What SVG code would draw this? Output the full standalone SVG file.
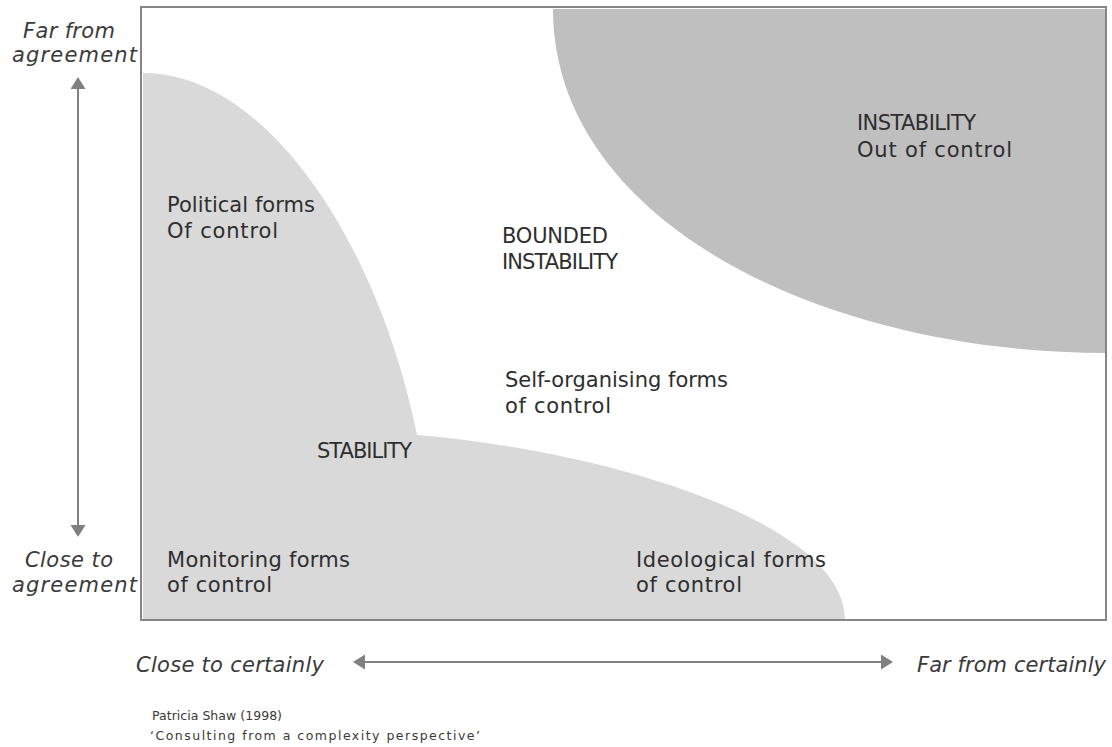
<svg xmlns="http://www.w3.org/2000/svg" width="1112" height="747" viewBox="0 0 1112 747">
  <style>
    .lbl { font-family: "DejaVu Sans", "Liberation Sans", sans-serif; font-size: 21px; fill: #2e2e2e; }
    .axis { font-family: "DejaVu Sans", "Liberation Sans", sans-serif; font-size: 21px; font-style: italic; fill: #3a3a3a; }
    .cite { font-family: "DejaVu Sans", "Liberation Sans", sans-serif; font-size: 12.5px; fill: #3a3a3a; }
    .arrow { stroke: #808080; stroke-width: 2; fill: none; }
  </style>
  <defs>
    <marker id="head" markerUnits="userSpaceOnUse" markerWidth="12" markerHeight="16" refX="9" refY="7.5" orient="auto-start-reverse">
      <path d="M0,0 L12,7.5 L0,15 Z" fill="#808080"/>
    </marker>
  </defs>

  <rect x="0" y="0" width="1112" height="747" fill="#ffffff"/>

  <!-- regions of the grid -->
  <g id="stability-region">
    <path d="M143,73 C270,73 380,250 417,435 C600,450 845,520 845,620 L143,620 Z" fill="#d9d9d9"/>
  </g>
  <g id="instability-region">
    <path d="M553,9 C553,220 820,353 1106,353 L1106,9 Z" fill="#bfbfbf"/>
  </g>

  <!-- frame -->
  <rect id="frame" x="141" y="7" width="965" height="613" fill="none" stroke="#858585" stroke-width="2"/>

  <!-- region labels -->
  <g id="political">
    <text class="lbl" x="167" y="212" textLength="148">Political forms</text>
    <text class="lbl" x="167" y="238" textLength="111">Of control</text>
  </g>
  <g id="bounded">
    <text class="lbl" x="502" y="243" textLength="106">BOUNDED</text>
    <text class="lbl" x="502" y="269" textLength="116">INSTABILITY</text>
  </g>
  <g id="instability">
    <text class="lbl" x="857" y="130" textLength="119">INSTABILITY</text>
    <text class="lbl" x="857" y="157" textLength="155">Out of control</text>
  </g>
  <g id="self-organising">
    <text class="lbl" x="505" y="387" textLength="223">Self-organising forms</text>
    <text class="lbl" x="505" y="413" textLength="106">of control</text>
  </g>
  <g id="stability">
    <text class="lbl" x="317" y="458" textLength="95">STABILITY</text>
  </g>
  <g id="monitoring">
    <text class="lbl" x="167" y="567" textLength="183">Monitoring forms</text>
    <text class="lbl" x="167" y="592" textLength="105">of control</text>
  </g>
  <g id="ideological">
    <text class="lbl" x="636" y="567" textLength="190">Ideological forms</text>
    <text class="lbl" x="636" y="592" textLength="106">of control</text>
  </g>

  <!-- axis labels -->
  <g id="far-agreement">
    <text class="axis" x="23" y="38" textLength="92">Far from</text>
    <text class="axis" x="12" y="62" textLength="125">agreement</text>
  </g>
  <g id="close-agreement">
    <text class="axis" x="25" y="567" textLength="88">Close to</text>
    <text class="axis" x="12" y="592" textLength="125">agreement</text>
  </g>
  <g id="close-certainty">
    <text class="axis" x="136" y="672" textLength="188">Close to certainly</text>
  </g>
  <g id="far-certainty">
    <text class="axis" x="917" y="672" textLength="189">Far from certainly</text>
  </g>

  <!-- axis arrows -->
  <g id="connectors">
    <line class="arrow" x1="78" y1="80" x2="78" y2="534" marker-start="url(#head)" marker-end="url(#head)"/>
    <line class="arrow" x1="356" y1="662" x2="890" y2="662" marker-start="url(#head)" marker-end="url(#head)"/>
  </g>

  <!-- source -->
  <g id="citation">
    <text class="cite" x="152" y="720" textLength="130">Patricia Shaw  (1998)</text>
    <text class="cite" x="150" y="740" textLength="330">‘Consulting  from a complexity perspective’</text>
  </g>
</svg>
